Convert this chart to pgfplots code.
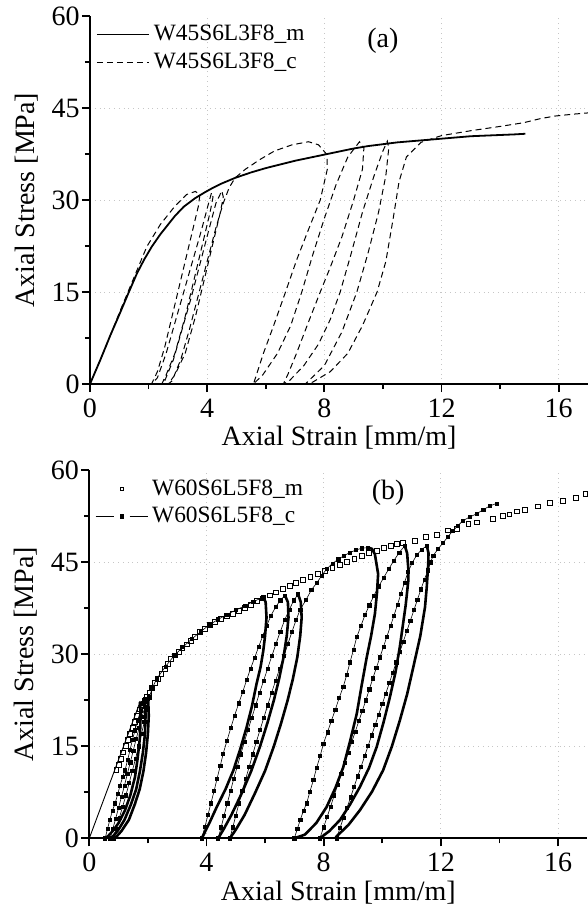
\documentclass[border=0pt]{standalone}
\usepackage{fontspec}
\setmainfont{Liberation Serif}
\usepackage{pgfplots}
\pgfplotsset{compat=1.18}

\pgfplotsset{
  stressstrain/.style={
    width=249pt, height=184pt, scale only axis,
    xmin=0, xmax=17, ymin=0, ymax=60,
    axis x line*=bottom, axis y line*=left,
    axis line style={line width=0.9pt},
    xtick={0,4,8,12,16}, ytick={0,15,30,45},
    extra y ticks={60}, extra y tick style={grid=none},
    minor xtick={2,6,10,14}, minor ytick={7.5,22.5,37.5,52.5},
    tick align=outside,
    major tick length=4pt, minor tick length=2.5pt,
    tick style={line width=0.9pt, black},
    xmajorgrids, ymajorgrids,
    major grid style={gray!45, dotted, line width=0.5pt},
    tick label style={font=\fontsize{14}{16}\selectfont},
    yticklabel style={inner sep=1pt},
    /pgf/number format/assume math mode=true,
    label style={font=\fontsize{14}{16}\selectfont},
    xlabel={Axial Strain [mm/m]},
    ylabel={Axial Stress [MPa]},
    xlabel style={at={(axis description cs:0.5,-0.168)}, anchor=base},
    ylabel style={at={(axis description cs:-0.112,0.5)}, anchor=base},
    clip mode=individual,
    legend cell align=left,
    legend style={at={(axis description cs:0.012,0.986)}, anchor=north west,
      draw=none, fill=none, inner sep=0pt, outer sep=0pt,
      font=\fontsize{11.7}{13}\selectfont, nodes={inner sep=2pt}, row sep=0.5pt},
  },
  unload/.style={forget plot, line width=1.3pt, line cap=round, line join=round},
  reload/.style={forget plot, line width=0.3pt, mark=square*, mark size=0.8pt},
}

\begin{document}
\begin{tikzpicture}
\path[use as bounding box] (-45pt,-263.5pt) rectangle (249pt,192pt);

% (a)
\begin{axis}[stressstrain, at={(0pt,0pt)}, anchor=south west,
  legend image code/.code={\draw[#1] (0pt,0pt) -- (26pt,0pt);}]
\addlegendimage{line width=0.9pt}
\addlegendentry{W45S6L3F8\_m}
\addlegendimage{line width=0.5pt, dash pattern=on 3pt off 2pt}
\addlegendentry{W45S6L3F8\_c}

% monotonic
\addplot[forget plot, line width=0.9pt] coordinates {
(0,0) (0.35,3.9) (0.7,8.0) (1.0,11.3) (1.31,14.8) (1.6,18.0) (1.85,20.3)
(2.11,22.4) (2.4,24.4) (2.65,25.9) (2.9,27.4) (3.2,28.9) (3.59,30.3)
(3.9,31.2) (4.2,32.0) (4.5,32.7) (4.95,33.6) (5.5,34.5) (6.0,35.2)
(6.5,35.8) (7.0,36.4) (7.5,36.9) (8.0,37.4) (8.5,37.9) (9.0,38.4)
(9.5,38.8) (10.0,39.1) (10.5,39.4) (11.0,39.6) (11.5,39.8) (12.0,40.0)
(12.5,40.2) (13.0,40.4) (13.5,40.5) (14.0,40.6) (14.5,40.7) (14.86,40.8)
};

% cyclic
\addplot[forget plot, line width=0.5pt, dash pattern=on 3pt off 2pt] coordinates {
(0,0) (0.5,5.6) (1.0,11.6) (1.4,16.2) (1.94,22.4) (2.4,26.0) (2.9,29.0)
(3.3,30.9) (3.6,31.4) (3.75,30.8)
(3.7,29) (3.45,24) (3.15,18) (2.85,12) (2.55,6) (2.3,2) (2.1,0)
(2.3,1) (2.6,5) (2.9,10) (3.2,15) (3.5,20) (3.8,25) (4.05,29.5) (4.15,31.2)
(4.2,30.5) (4.1,28) (3.85,23) (3.55,17) (3.25,11) (2.9,5) (2.6,1.5) (2.45,0)
(2.55,0.5) (2.85,4) (3.15,9) (3.45,14) (3.75,19.5) (4.05,25) (4.3,29.5) (4.5,31.5)
(4.55,30.5) (4.45,28) (4.2,23) (3.9,17) (3.6,11) (3.25,5) (2.9,1.5) (2.67,0)
(2.8,0.5) (3.1,4) (3.4,9) (3.7,14.5) (4.0,20) (4.3,25.5) (4.55,29.5) (4.75,32) (4.95,33.6)
(5.3,35) (5.8,36.6) (6.3,38.0) (6.9,39.0) (7.46,39.5) (7.8,39.0) (8.09,37.4)
(8.1,35) (7.86,30) (7.46,25.2) (7.06,20.3) (6.66,14.8) (6.26,9.4) (5.92,5) (5.58,0)
(5.9,1.5) (6.4,5) (6.85,9.5) (7.23,15) (7.6,21) (8.0,27) (8.4,32.5) (8.8,37) (9.2,39.5)
(9.35,38.5) (9.3,35) (9.0,30) (8.6,24) (8.2,19) (7.86,15) (7.45,10) (7.05,5) (6.75,1.5) (6.6,0)
(6.8,0.5) (7.3,3) (7.8,6.5) (8.2,10.5) (8.54,15) (8.9,21) (9.3,28) (9.7,34) (10.0,38) (10.15,39.6)
(10.2,38.5) (10.1,34) (9.85,28) (9.5,21.5) (9.11,15) (8.6,8.5) (8.0,3) (7.35,0)
(7.6,0.3) (8.2,2) (8.8,5) (9.3,9.5) (9.8,15) (10.1,20) (10.35,27) (10.55,33) (10.8,37) (11.3,39.4)
(12.0,40.5) (13.0,41.3) (14.0,42.0) (14.8,42.6) (15.4,43.3) (15.9,43.7) (16.5,44.0) (17.0,44.2)
};

\node[font=\fontsize{14}{16}\selectfont] at (axis cs:10,56) {(a)};
\end{axis}

% (b)
\begin{axis}[stressstrain, at={(-0.35pt,-227.15pt)}, anchor=south west]
\addlegendimage{legend image code/.code={
  \path (0pt,0pt) (26pt,0pt);
  \draw[line width=0.45pt, mark=square, mark size=0.8pt] plot coordinates {(13pt,0pt)};}}
\addlegendentry{W60S6L5F8\_m}
\addlegendimage{legend image code/.code={
  \draw[line width=0.45pt] (0pt,0pt) -- (9pt,0pt) (17pt,0pt) -- (26pt,0pt);
  \draw[mark=square*, mark size=0.8pt] plot coordinates {(13pt,0pt)};}}
\addlegendentry{W60S6L5F8\_c}

% monotonic
\addplot[forget plot, only marks, mark=square, mark size=1.2pt, line width=0.45pt] coordinates {
(0.93,11.1) (1.0,12.0) (1.08,13.0) (1.16,14.0) (1.24,15.0) (1.32,16.0) (1.40,17.0)
(1.48,18.0) (1.56,19.0) (1.64,20.0) (1.72,21.0) (1.80,21.8) (1.88,22.4) (1.96,23.0)
(2.05,23.7) (2.15,24.5) (2.25,25.3) (2.35,26.0) (2.46,26.8) (2.57,27.6) (2.68,28.4)
(2.8,29.2) (2.92,29.8) (3.05,30.4) (3.18,31.0) (3.32,31.6) (3.46,32.2) (3.6,32.8)
(3.78,33.6) (3.95,34.2) (4.12,34.8) (4.3,35.3) (4.5,35.8) (4.7,36.3) (4.91,36.6)
(5.12,37.1) (5.32,37.6) (5.52,38.1) (5.73,38.7) (5.94,39.1) (6.16,39.6) (6.38,40.1)
(6.6,40.6) (6.85,41.2) (7.05,41.6) (7.3,42.1) (7.55,42.6) (7.8,43.1) (8.05,43.6)
(8.3,44.1) (8.55,44.6) (8.8,45.1) (9.05,45.6) (9.3,46.1) (9.55,46.5) (9.81,46.9)
(10.05,47.4) (10.3,47.7) (10.5,48.0) (10.72,48.2) (11.12,48.5) (11.49,49.1)
(11.86,49.5) (12.25,50.2) (12.56,50.4) (12.94,51.2) (13.24,51.5) (13.77,52.1)
(14.11,52.6) (14.34,52.8) (14.61,53.3) (14.88,53.6) (15.32,54.1) (15.72,54.7)
(16.16,55.0) (16.61,55.5) (16.94,56.1)
};

% cyclic: initial loading
\addplot[forget plot, line width=0.45pt] coordinates {(0,0) (1.73,22.2)};

% cyclic: loops at about 22 MPa
\addplot[unload] coordinates {
(1.73,22.2) (1.75,20) (1.73,16.5) (1.65,13) (1.56,10) (1.4,7) (1.22,4.6)
(1.0,2.5) (0.82,1.3) (0.65,0.4) (0.54,0)};
\addplot[reload] coordinates {
(0.54,0) (0.62,1.5) (0.7,3) (0.79,4.5) (0.88,5.7) (0.97,7.2) (1.05,8.6)
(1.14,10) (1.22,11.1) (1.31,12.8) (1.39,14.4) (1.47,16) (1.56,17.6)
(1.65,19.2) (1.75,20.8) (1.83,22) (1.9,22.8)};
\addplot[unload] coordinates {
(1.9,22.8) (1.92,20) (1.9,17) (1.83,14) (1.73,11) (1.6,8) (1.42,5.5)
(1.2,3) (0.98,1.3) (0.82,0.4) (0.71,0)};
\addplot[reload] coordinates {
(0.71,0) (0.8,1.5) (0.9,3.2) (1.0,5) (1.1,6.8) (1.2,8.6) (1.3,10.5)
(1.4,12.4) (1.5,14.3) (1.6,16.2) (1.7,18) (1.8,19.8) (1.9,21.4) (2.0,22.8)};
\addplot[unload] coordinates {
(2.01,22.8) (2.03,20) (2.0,17) (1.94,14) (1.85,11) (1.72,8) (1.55,5.5)
(1.35,3) (1.1,1.2) (0.95,0.4) (0.82,0)};
\addplot[reload] coordinates {
(0.82,0) (0.92,1.6) (1.03,3.4) (1.14,5.2) (1.25,7) (1.36,9) (1.47,11)
(1.58,13) (1.68,15) (1.78,17) (1.88,19) (1.97,21) (2.05,23) (2.15,24.5)
(2.3,26) (2.6,28) (2.9,29.8) (3.2,31.2) (3.5,32.5) (3.8,33.7) (4.1,34.8)
(4.4,35.7) (4.7,36.5) (5.0,37.2) (5.3,37.9) (5.6,38.6) (5.94,39.3)};

% cyclic: loops at about 39 MPa
\addplot[unload] coordinates {
(5.94,39.3) (6.02,38.5) (6.05,36) (6.0,33) (5.94,30.6) (5.85,28) (5.71,25.2)
(5.55,21.5) (5.37,18.1) (5.15,14.5) (4.92,11.1) (4.65,8) (4.35,5.1)
(4.1,2.5) (3.84,0)};
\addplot[reload] coordinates {
(3.84,0) (3.95,1.9) (4.05,3.8) (4.15,5.7) (4.26,7.7) (4.36,9.7) (4.47,11.8)
(4.57,13.8) (4.7,15.9) (4.83,18) (4.96,20) (5.1,22) (5.24,23.9) (5.37,25.8)
(5.5,27.6) (5.64,29.4) (5.78,31.2) (5.92,33) (6.06,34.7) (6.2,36.3)
(6.36,37.7) (6.52,38.8) (6.68,39.6)};
\addplot[unload] coordinates {
(6.68,39.6) (6.78,38.5) (6.8,36) (6.74,33) (6.63,29.5) (6.48,26) (6.3,22.5)
(6.08,18.8) (5.83,15) (5.53,11) (5.2,7.3) (4.85,3.8) (4.6,1.6) (4.4,0)};
\addplot[reload] coordinates {
(4.4,0) (4.5,1.8) (4.6,3.7) (4.71,5.7) (4.82,7.7) (4.93,9.7) (5.05,11.7)
(5.17,13.7) (5.29,15.7) (5.42,17.7) (5.55,19.7) (5.68,21.7) (5.81,23.7)
(5.95,25.7) (6.09,27.7) (6.23,29.7) (6.37,31.7) (6.52,33.7) (6.67,35.6)
(6.83,37.3) (6.98,38.8) (7.13,39.8)};
\addplot[unload] coordinates {
(7.13,39.8) (7.22,38.5) (7.25,36) (7.2,33) (7.1,29.5) (6.95,26) (6.77,22.5)
(6.55,18.8) (6.3,15) (6.0,11) (5.65,7.3) (5.3,3.8) (5.0,1.4) (4.8,0)};
\addplot[reload] coordinates {
(4.8,0) (4.9,1.8) (5.0,3.7) (5.11,5.7) (5.22,7.7) (5.34,9.7) (5.46,11.7)
(5.58,13.7) (5.7,15.7) (5.83,17.7) (5.96,19.7) (6.09,21.7) (6.22,23.7)
(6.36,25.7) (6.5,27.7) (6.64,29.7) (6.78,31.7) (6.92,33.7) (7.06,35.6)
(7.2,37.3) (7.4,38.9) (7.58,40.5) (7.76,41.6) (7.93,42.8) (8.1,43.9)
(8.3,44.8) (8.5,45.5) (8.7,46.1) (8.9,46.6) (9.1,47.0) (9.3,47.3) (9.52,47.4)};

% cyclic: loops at about 47 MPa
\addplot[unload] coordinates {
(9.52,47.4) (9.65,47.2) (9.75,46.3) (9.86,43.1) (9.82,40) (9.75,36.6)
(9.62,33) (9.47,29.5) (9.3,25) (9.13,20.3) (8.9,15.8) (8.67,11.6)
(8.4,8.2) (8.1,5.1) (7.75,2.5) (7.36,0.6) (7.0,0)};
\addplot[reload] coordinates {
(7.0,0) (7.1,1.5) (7.2,3) (7.31,4.5) (7.42,5.7) (7.53,7.6) (7.65,9.5)
(7.76,11.5) (7.88,13.4) (7.99,15.4) (8.13,17.3) (8.26,19.1) (8.4,21)
(8.53,22.9) (8.67,24.7) (8.79,26.7) (8.9,28.7) (9.02,30.8) (9.13,32.8)
(9.27,34.6) (9.41,36.4) (9.56,38) (9.72,39.6) (9.88,41.1) (10.05,42.5)
(10.22,43.9) (10.4,45.3) (10.58,46.6) (10.77,47.7)};
\addplot[unload] coordinates {
(10.77,47.7) (10.85,46.5) (10.89,44) (10.89,42) (10.8,38) (10.6,31.2)
(10.45,27) (10.26,23) (10.05,19) (9.81,14.9) (9.55,11.5) (9.24,8.4)
(8.9,5.5) (8.56,3) (8.2,1.2) (7.87,0)};
\addplot[reload] coordinates {
(7.87,0) (8.0,1.8) (8.12,3.5) (8.24,5.2) (8.36,7.0) (8.48,8.7) (8.6,10.5)
(8.72,12.3) (8.84,14.0) (8.96,15.7) (9.08,17.4) (9.2,19.1) (9.32,20.8)
(9.44,22.5) (9.56,24.3) (9.68,26.1) (9.8,27.8) (9.92,29.5) (10.04,31.2)
(10.16,32.9) (10.28,34.6) (10.4,36.3) (10.52,38.1) (10.64,39.9) (10.76,41.7)
(10.88,43.4) (11.02,44.9) (11.18,46.2) (11.35,47.1) (11.52,47.7)};
\addplot[unload] coordinates {
(11.52,47.7) (11.58,46.5) (11.57,44.7) (11.52,41) (11.46,37.7) (11.3,33)
(11.06,27.9) (10.85,23.5) (10.6,19.2) (10.33,15) (10.03,11.1) (9.65,7.6)
(9.24,4.6) (8.85,2.2) (8.44,0.3) (8.4,0)};
\addplot[reload] coordinates {
(8.44,0) (8.56,1.7) (8.68,3.4) (8.8,5.0) (8.92,6.7) (9.04,8.4) (9.16,10.1)
(9.28,11.7) (9.4,13.4) (9.52,15.1) (9.64,16.8) (9.76,18.5) (9.88,20.2)
(10.0,21.9) (10.12,23.6) (10.24,25.3) (10.36,27.0) (10.48,28.7) (10.6,30.4)
(10.72,32.1) (10.84,33.8) (10.96,35.5) (11.08,37.2) (11.2,38.9) (11.32,40.6)
(11.44,42.2) (11.56,43.7) (11.65,45) (11.74,46.1) (11.91,47.2) (12.08,48.2)
(12.25,49.2) (12.42,50.2) (12.59,51.0) (12.76,51.8) (12.99,52.4) (13.22,52.9)
(13.45,53.6) (13.68,54.2) (13.9,54.6)};

\node[font=\fontsize{14}{16}\selectfont] at (axis cs:10.2,56.3) {(b)};
\end{axis}
\end{tikzpicture}
\end{document}
